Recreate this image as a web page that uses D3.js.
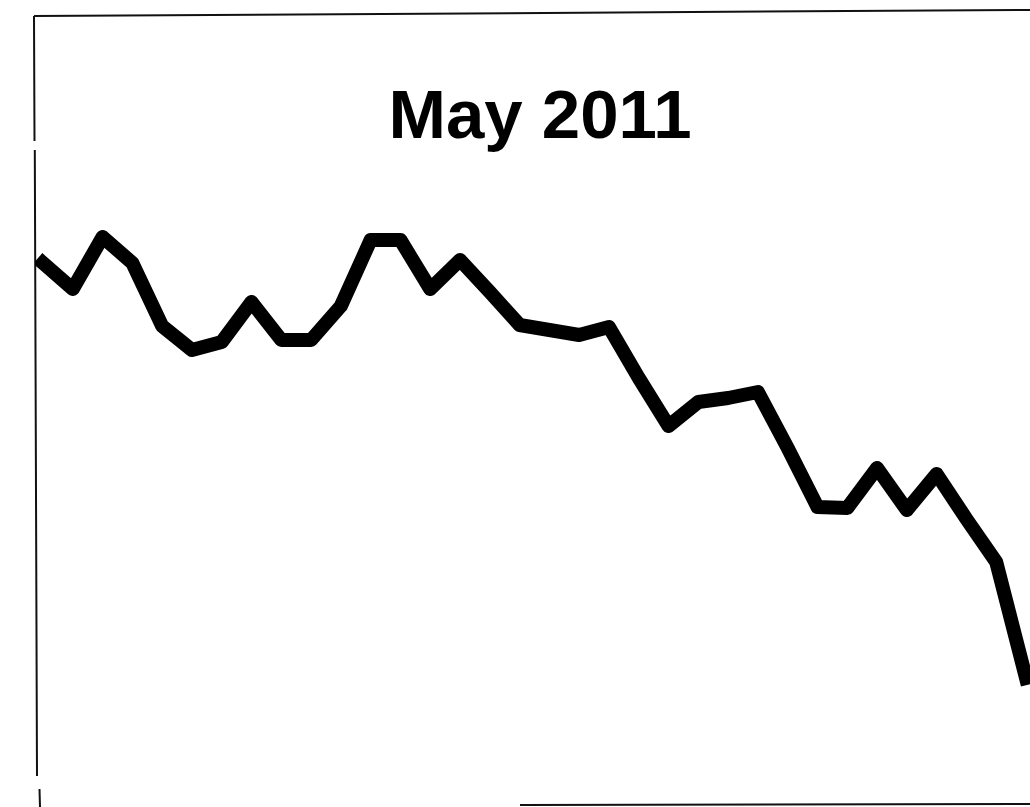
<!DOCTYPE html>
<html>
<head>
<meta charset="utf-8">
<script src="https://cdn.jsdelivr.net/npm/d3@7"></script>
<style>
  html, body { margin: 0; padding: 0; background: #fff; }
  svg { display: block; }
</style>
</head>
<body>
<svg id="chart" width="1030" height="807"></svg>
<script>
// ---- data ----
const title = "May 2011";
const steps = d3.range(0, 34);           // observation index
const values = [93.7, 91.1, 96.3, 93.7, 87.4, 85.0, 85.8, 89.8, 86.0, 86.0,
                89.4, 96.0, 96.0, 91.1, 94.0, 90.8, 87.5, 87.0, 86.5, 87.3,
                82.2, 77.4, 79.8, 80.2, 80.8, 75.2, 69.3, 69.2, 73.2, 69.0,
                72.6, 68.1, 63.8, 52.2];

const svg = d3.select("#chart");
const W = 1030, H = 807;

const x = d3.scaleLinear().domain([0, 33]).range([43, 1026]);
const y = d3.scaleLinear().domain([40, 100]).range([800, 200]);

// frame (scanned box, slightly skewed, with gaps)
const frame = svg.append("g").attr("stroke", "#111").attr("fill", "none");
frame.append("path").attr("stroke-width", 2)
  .attr("d", "M34,16 L1030,10");
frame.append("path").attr("stroke-width", 2)
  .attr("d", "M34,16 L34.5,141 M34.8,150 L37,776 M39.5,789 L40,807");
frame.append("path").attr("stroke-width", 2)
  .attr("d", "M520,805 L1030,804");

// clip to plot box
svg.append("clipPath").attr("id", "clip")
  .append("rect").attr("x", 35).attr("y", 16).attr("width", W - 35).attr("height", H - 16);

// title
svg.append("text")
  .attr("x", 540).attr("y", 138)
  .attr("text-anchor", "middle")
  .attr("font-family", "'Liberation Sans', Arial, Helvetica, sans-serif")
  .attr("font-size", 69)
  .attr("font-weight", "bold")
  .attr("fill", "#000")
  .text(title);

// line
const line = d3.line()
  .x((d, i) => x(steps[i]))
  .y(d => y(d));

svg.append("path")
  .datum(values)
  .attr("clip-path", "url(#clip)")
  .attr("fill", "none")
  .attr("stroke", "#000")
  .attr("stroke-width", 14)
  .attr("stroke-linejoin", "round")
  .attr("stroke-linecap", "square")
  .attr("d", line);
</script>
</body>
</html>
